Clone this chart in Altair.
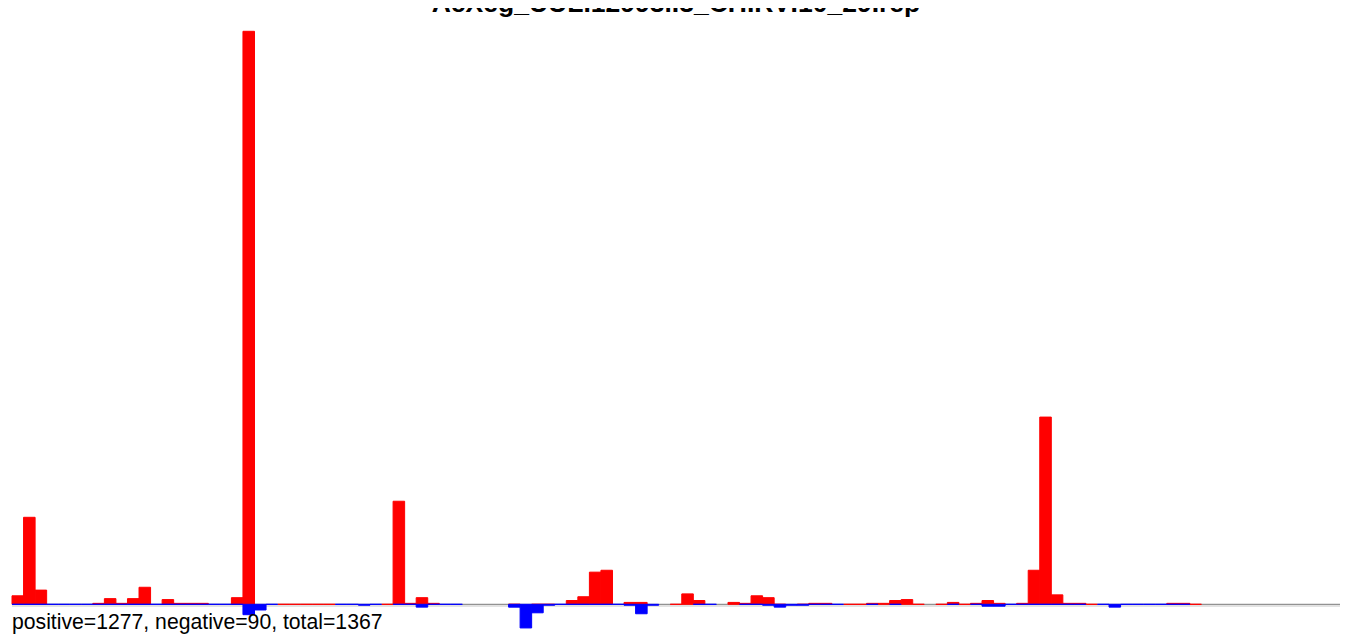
import altair as alt
import pandas as pd

TITLE = "AcXeg_UULI12993lI3_CHIRVI10_29Irep"
POS_TOTAL = 1277
NEG_TOTAL = 90
N_BINS = 115

# positive (red) counts per bin; None = nothing drawn
pos = [9, 92, 15, None, None, None, None, 1, 6, 1,
       6, 18, None, 5, 1, 1, 1, None, None, 7,
       606, None, None, 0, 0, 0, 0, 0, None, None,
       None, None, 0, 109, 1, 7, 1, None, None, None,
       None, None, None, 0, None, 0, 0, None, 4, 8,
       34, 36, None, 2, 2, None, None, 0, 11, 4,
       None, None, 2, 1, 9, 7, 0, None, 0, 1,
       1, None, 0, 0, 1, 1, 4, 5, 0, None,
       0, 2, 0, 1, 4, 1, None, 1, 36, 198,
       10, 1, 1, 0, None, None, None, None, None, None,
       1, 1, 0, None, None, None, None, None, None, None,
       None, None, None, None, None]
# negative (blue) counts per bin; None = nothing drawn
neg = [0, 0, 0, 0, 0, 0, 0, 0, 0, 0,
       0, 0, 0, 0, 0, 0, 0, 0, 0, 0,
       11, 6, 0, None, None, None, None, None, 0, 0,
       1, 0, None, 0, 0, 3, 0, 0, 0, None,
       None, None, None, 3, 25, 9, 1, 0, 0, 0,
       0, 0, 0, 1, 10, 1, None, None, None, 0,
       0, None, None, 0, 0, 1, 3, 1, 1, 0,
       0, 0, None, None, 0, None, 0, None, None, None,
       None, 0, None, 0, 2, 2, 0, 0, 0, 0,
       0, 0, 0, None, 0, 3, 0, 0, 0, 0,
       0, 0, None, None, None, None, None, None, None, None,
       None, None, None, None, None]

rows = []
for i in range(N_BINS):
    if pos[i] is not None:
        rows.append({"bin": i, "bin2": i + 1, "value": pos[i], "series": "positive"})
    if neg[i] is not None:
        rows.append({"bin": i, "bin2": i + 1, "value": -neg[i], "series": "negative"})
df = pd.DataFrame(rows)

W, H = 1336, 627
xscale = alt.Scale(domain=[0, N_BINS], range=[4, 1332], nice=False, zero=False)
yscale = alt.Scale(domain=[0, 606], range=[596.3, 23.3], nice=False, zero=False)

base_axis = pd.DataFrame({"a": [0], "b": [N_BINS], "z": [0]})
light = alt.Chart(base_axis).mark_rule(color="#d9d9d9", strokeWidth=1.5, yOffset=1.6).encode(
    x=alt.X("a:Q", scale=xscale, axis=None), x2="b:Q", y=alt.Y("z:Q", scale=yscale, axis=None))
dark = alt.Chart(base_axis).mark_rule(color="#777777", strokeWidth=1).encode(
    x=alt.X("a:Q", scale=xscale, axis=None), x2="b:Q", y=alt.Y("z:Q", scale=yscale, axis=None))

red = alt.Chart(df).transform_filter(alt.datum.series == "positive").mark_bar(
    color="#ff0000", stroke="#ff0000", strokeWidth=1).encode(
    x=alt.X("bin:Q", scale=xscale, axis=None), x2="bin2:Q",
    y=alt.Y("value:Q", scale=yscale, axis=None), y2=alt.datum(0))
blue = alt.Chart(df).transform_filter(alt.datum.series == "negative").mark_bar(
    color="#0000ff", stroke="#0000ff", strokeWidth=1).encode(
    x=alt.X("bin:Q", scale=xscale, axis=None), x2="bin2:Q",
    y=alt.Y("value:Q", scale=yscale, axis=None), y2=alt.datum(0))

title = alt.Chart(pd.DataFrame({"t": [TITLE]})).mark_text(
    font="Liberation Sans", fontSize=26.5, fontWeight="bold", color="#000000",
    align="center", baseline="alphabetic").encode(
    text="t:N", x=alt.value(668), y=alt.value(4))

label = alt.Chart(pd.DataFrame({"t": [f"positive={POS_TOTAL}, negative={NEG_TOTAL}, total={POS_TOTAL + NEG_TOTAL}"]})).mark_text(
    font="Liberation Sans", fontSize=21.2, color="#000000",
    align="left", baseline="alphabetic").encode(
    text="t:N", x=alt.value(4), y=alt.value(620.5))

chart = alt.layer(light, dark, red, blue, title, label).properties(
    width=W, height=H, padding=0, autosize=alt.AutoSizeParams(type="none")
).configure_view(stroke=None)

chart.save("out.html", embed_options={"renderer": "svg", "actions": False})
